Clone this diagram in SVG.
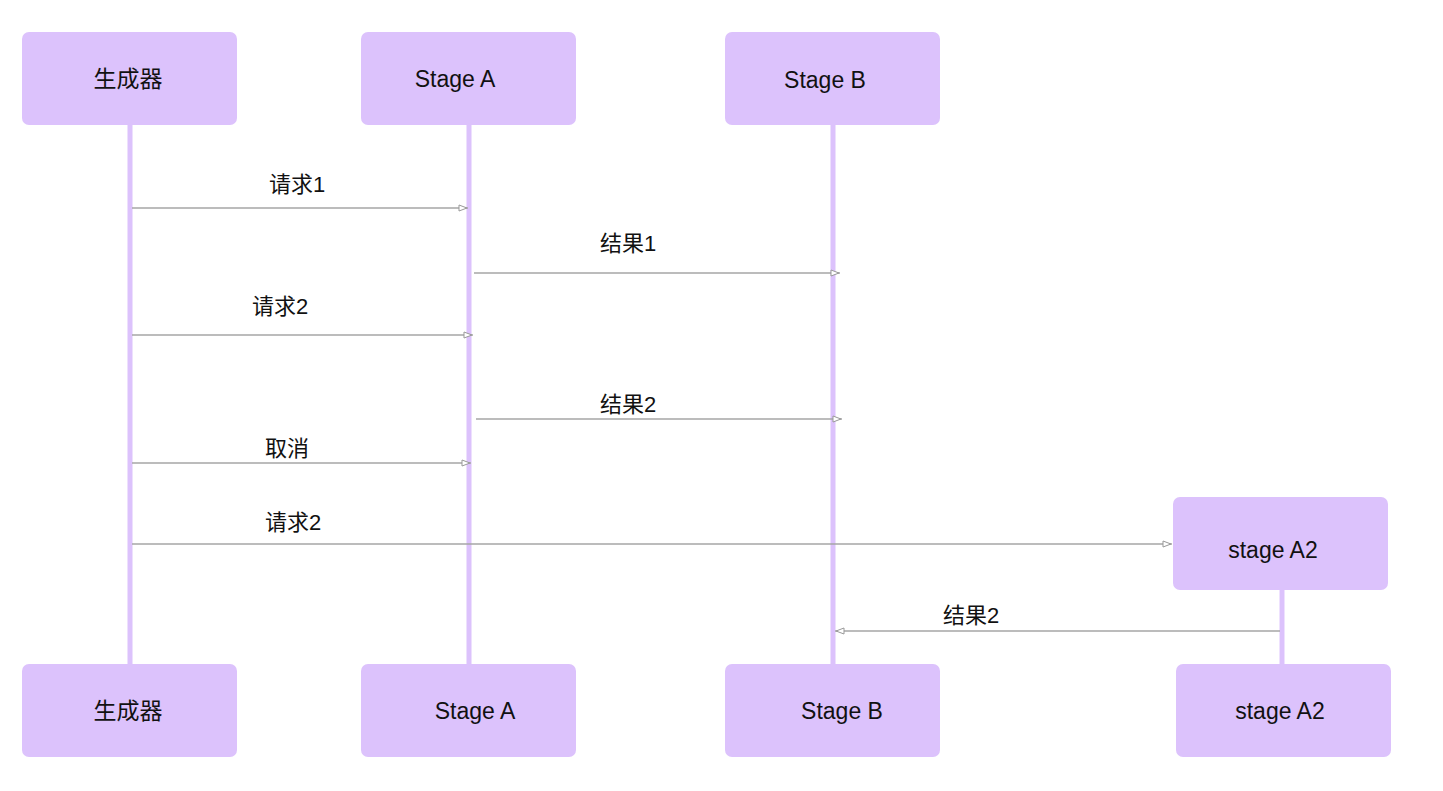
<svg xmlns="http://www.w3.org/2000/svg" width="1443" height="791" viewBox="0 0 1443 791">
<style>
.box{fill:#dcc2fc;}
.life{stroke:#dcc2fc;stroke-width:5;fill:none;}
.msg{stroke:#a6a6a6;stroke-width:1.5;fill:none;marker-end:url(#arr);}
.t{font-family:"Liberation Sans","Noto Sans CJK SC",sans-serif;font-size:23px;fill:#111;text-anchor:middle;}
.lbl{font-family:"Liberation Sans","Noto Sans CJK SC",sans-serif;font-size:22px;fill:#111;text-anchor:middle;}
</style>
<defs>
<marker id="arr" viewBox="0 0 10 8" refX="10" refY="4" markerWidth="10" markerHeight="8" markerUnits="userSpaceOnUse" orient="auto">
<path d="M1,1 L9,4 L1,7 Z" fill="#fff" stroke="#999" stroke-width="1"/>
</marker>
</defs>
<g id="lifelines">
<line class="life" x1="130" y1="125" x2="130" y2="664"/>
<line class="life" x1="469" y1="125" x2="469" y2="664"/>
<line class="life" x1="833" y1="125" x2="833" y2="664"/>
<line class="life" x1="1282" y1="590" x2="1282" y2="664"/>
</g>
<g id="gen-top"><rect class="box" x="22" y="32" width="215" height="93" rx="7"/><text class="t" x="128" y="87">生成器</text></g>
<g id="stageA-top"><rect class="box" x="361" y="32" width="215" height="93" rx="7"/><text class="t" x="455" y="87">Stage A</text></g>
<g id="stageB-top"><rect class="box" x="725" y="32" width="215" height="93" rx="7"/><text class="t" x="825" y="88">Stage B</text></g>
<g id="stageA2-top"><rect class="box" x="1173" y="497" width="215" height="93" rx="7"/><text class="t" x="1273" y="558">stage A2</text></g>
<g id="gen-bottom"><rect class="box" x="22" y="664" width="215" height="93" rx="7"/><text class="t" x="128" y="719">生成器</text></g>
<g id="stageA-bottom"><rect class="box" x="361" y="664" width="215" height="93" rx="7"/><text class="t" x="475" y="719">Stage A</text></g>
<g id="stageB-bottom"><rect class="box" x="725" y="664" width="215" height="93" rx="7"/><text class="t" x="842" y="719">Stage B</text></g>
<g id="stageA2-bottom"><rect class="box" x="1176" y="664" width="215" height="93" rx="7"/><text class="t" x="1280" y="719">stage A2</text></g>
<g id="connectors">
<line class="msg" x1="132" y1="208" x2="468" y2="208"/>
<line class="msg" x1="474" y1="273" x2="840" y2="273"/>
<line class="msg" x1="132" y1="335" x2="473" y2="335"/>
<line class="msg" x1="476" y1="419" x2="842" y2="419"/>
<line class="msg" x1="132" y1="463" x2="471" y2="463"/>
<line class="msg" x1="132" y1="544" x2="1172" y2="544"/>
<line class="msg" x1="1280" y1="631" x2="835" y2="631"/>
</g>
<g id="labels">
<text class="lbl" x="297" y="192">请求1</text>
<text class="lbl" x="628" y="251">结果1</text>
<text class="lbl" x="280" y="314">请求2</text>
<text class="lbl" x="628" y="412">结果2</text>
<text class="lbl" x="287" y="456">取消</text>
<text class="lbl" x="293" y="530">请求2</text>
<text class="lbl" x="971" y="623">结果2</text>
</g>
</svg>
